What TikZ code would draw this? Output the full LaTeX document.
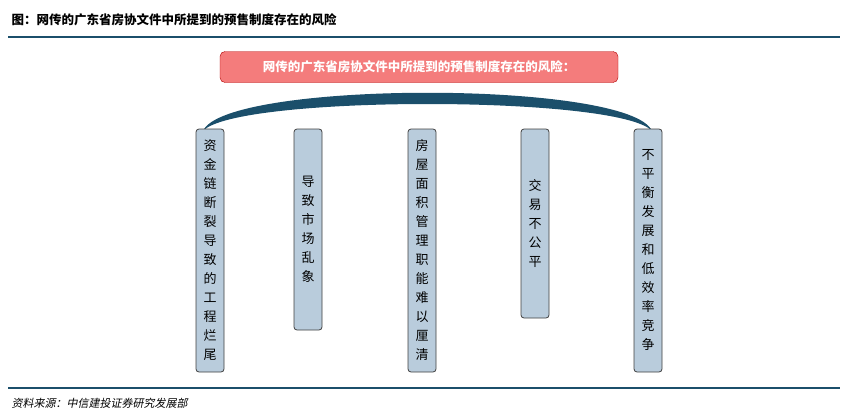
\documentclass[tikz,border=0pt]{standalone}
\usepackage{fontspec}
\newfontfamily\cjk{Noto Sans CJK SC}
\newfontfamily\cjkit[FakeSlant=0.2]{Noto Sans CJK SC}
\begin{document}
\begin{tikzpicture}[x=1pt,y=-1pt,
  col/.style={draw=black!75,fill=colfill,rounded corners=3pt,minimum width=30pt,anchor=north,inner sep=0pt,line width=0.8pt},
  ctext/.style={font=\cjk\fontsize{13}{19}\selectfont,align=center,text width=14pt}]
\definecolor{teal}{HTML}{1B4F6B}
\definecolor{colfill}{HTML}{B9CCDC}
\definecolor{hdr}{HTML}{F47C7C}
\useasboundingbox (0,0) rectangle (851,415);
\node[anchor=west,font=\cjk\bfseries\fontsize{12.5}{14}\selectfont] (title) at (8,20) {图：网传的广东省房协文件中所提到的预售制度存在的风险};
\draw[teal,line width=1.5pt] (8,37) -- (840,37);
\node[draw=red!70!black,fill=hdr,rounded corners=5pt,minimum width=398pt,minimum height=31pt,text=white,font=\cjk\bfseries\fontsize{12.5}{14}\selectfont] (hdr) at (419,67) {网传的广东省房协文件中所提到的预售制度存在的风险：};
\fill[teal] (203,131) .. controls (225,80) and (630,80) .. (652,131) .. controls (620,95) and (235,95) .. cycle;
\foreach \n/\x/\b/\t in {a/210/372/资\\金\\链\\断\\裂\\导\\致\\的\\工\\程\\烂\\尾,
  b/308/330/导\\致\\市\\场\\乱\\象,
  c/422/372/房\\屋\\面\\积\\管\\理\\职\\能\\难\\以\\厘\\清,
  d/535/318/交\\易\\不\\公\\平,
  e/648/372/不\\平\\衡\\发\\展\\和\\低\\效\\率\\竞\\争}{
  \path[col] (\x-14,129) rectangle (\x+14,\b);
  \node[ctext] (\n) at (\x,{(129+\b)/2}) {\t};
}
\draw[teal,line width=1.5pt] (8,388) -- (840,388);
\node[anchor=west,font=\cjkit\fontsize{11}{13}\selectfont] (src) at (8,403) {资料来源：中信建投证券研究发展部};
\end{tikzpicture}
\end{document}
